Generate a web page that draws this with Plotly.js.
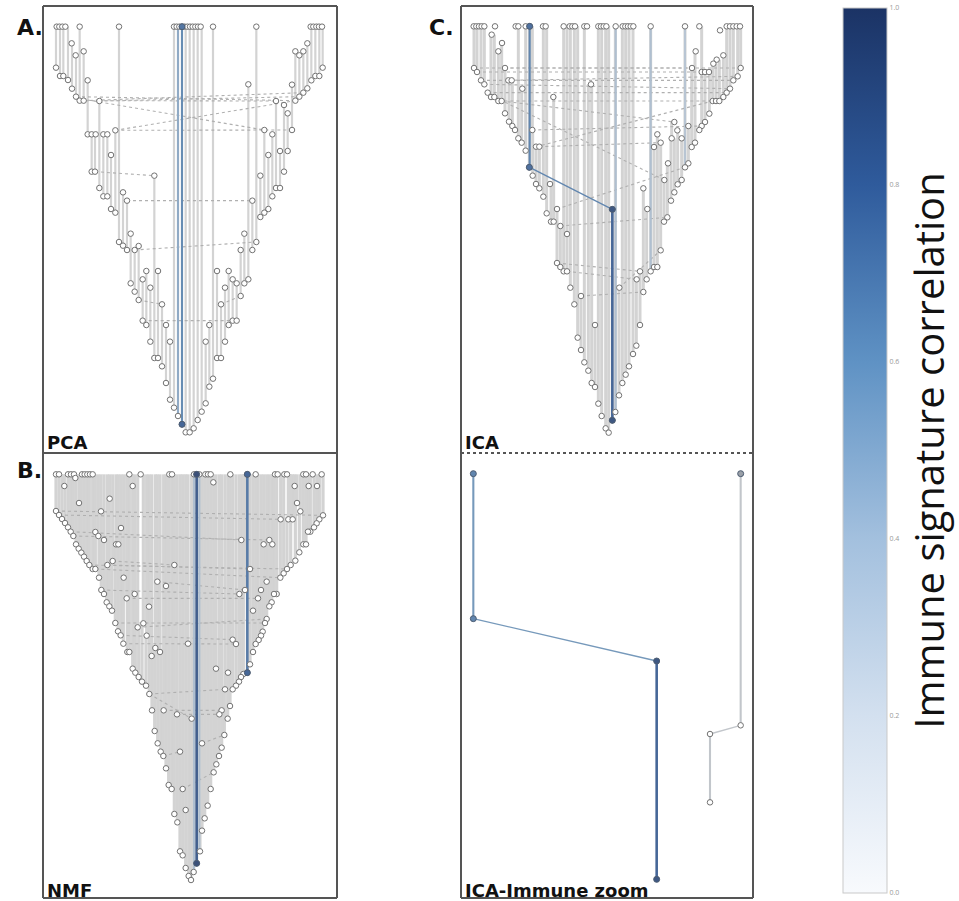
<!DOCTYPE html>
<html><head><meta charset="utf-8">
<script src="https://cdn.plot.ly/plotly-3.0.1.min.js"></script>
<style>html,body{margin:0;padding:0;background:#fff}#chart{width:959px;height:901px}</style>
</head><body><div id="chart"></div>
<script>
// ---------------- DATA (tree layout positions) ----------------
// A. PCA
const pcaTopY = 80;
const pcaTopX = [50,58,67,76,119,237,402,410,418,426,434,442,450,458,466,474,482,519,649,812,820,829,837,846];
const pcaNodeX = [95,107,131,48,60,70,84,143,96,108,119,131,178,143,155,167,190,202,226,213,155,165,343,178,190,202,249,261,213,226,
  802,766,778,790,848,826,838,814,756,802,790,778,766,708,732,743,756,673,697,720,743,685,732,661,708,720,697,637,685,673,661,625,
  272,237,249,261,284,296,272,284,296,319,354,308,331,366,308,319,378,331,390,343,354,366,378,390,402,414,426,437,449,461,473,485,497,508,519,497,508,
  531,566,578,590,613,625,555,543,602,566,578,590,555,531,543,613,649,602,637];
const pcaNodeY = [130,166,154,203,228,228,240,241,266,290,302,302,303,403,403,403,403,403,391,465,515,515,527,564,589,589,577,602,627,638,
  130,154,166,154,203,228,228,241,254,265,278,290,302,303,315,340,390,390,403,453,453,465,515,527,564,564,589,602,627,638,651,253,
  701,726,737,750,750,738,850,875,900,813,813,838,863,913,962,975,975,1025,1025,1074,1074,1099,1149,1199,1223,1248,1273,1297,1297,1285,1260,1235,1210,1160,1136,1025,975,
  813,813,838,850,850,838,863,913,888,975,962,962,1025,1074,1074,701,726,750,750];
const pcaLinkX1 = [108,119,178,143,226,226,131,165,261,284,308,296,543];
const pcaLinkY1 = [290,302,303,300,391,391,302,515,602,750,962,900,913];
const pcaLinkX2 = [766,708,778,673,766,756,790,343,637,649,590,366,602];
const pcaLinkY2 = [302,303,290,390,302,390,278,527,602,726,962,913,888];
const pcaSegX1 = [414,426], pcaSegY1 = [80,80], pcaSegX2 = [414,426], pcaSegY2 = [1248,1273], pcaSegC = [0.45,0.62];
const pcaFillX = [426,426], pcaFillY = [80,1273], pcaFillC = [0.62,0.7];

// B. NMF
const nmfTopY = 73;
const nmfTopX = [48,57,84,93,102,126,134,142,150,158,268,302,388,396,462,470,478,496,504,512,571,622,647,705,713,733,741,790,798,818,845];
const nmfNodeX = [48,57,66,75,84,92,100,108,116,124,132,140,148,158,166,177,184,192,200,208,216,226,234,242,250,262,268,278,286,296,306,318,328,336,344,353,362,370,378,386,395,403,412,420,428,437,446,453,461,
  73,106,117,209,183,243,166,175,192,228,235,218,202,403,251,352,378,284,260,327,310,293,320,346,360,335,444,278,371,411,455,420,428,437,
  520,764,806,831,771,781,722,745,758,849,838,830,822,811,804,604,688,671,697,790,798,778,766,752,741,731,721,630,680,615,598,663,710,702,654,695,688,639,680,675,668,663,656,647,578,588,639,630,622,528,564,610,603,
  597,588,578,555,570,545,538,563,553,545,537,529,521,512,503,494,486,480,470,486];
const nmfNodeY = [183,195,207,219,232,245,258,283,296,308,320,333,345,357,357,383,420,432,457,469,482,519,544,556,581,606,606,656,668,681,695,707,732,781,843,880,905,918,955,1005,1017,1092,1117,1204,1216,1254,1278,1290,1266,
  108,84,159,146,184,234,246,258,270,283,283,333,345,345,383,395,408,432,445,470,520,532,557,594,606,618,581,108,781,793,806,905,1017,1080,
  97,108,108,108,159,184,208,208,208,196,208,220,232,245,245,270,270,283,283,283,283,307,332,345,357,370,383,357,395,420,432,420,432,432,445,457,469,482,507,519,545,557,570,582,569,582,606,643,668,656,668,672,681,
  695,707,718,718,768,781,793,806,855,893,918,943,967,1017,1067,1105,1142,1204,1240,880];
const nmfLinkX1 = [48,57,92,100,218,166,148,202,184,260,352,226,293,242,250,328,371,411,328,370,428,486];
const nmfLinkY1 = [183,195,245,258,333,357,345,345,420,445,395,519,532,556,581,732,781,793,732,918,1017,880];
const nmfLinkX2 = [849,722,604,688,403,721,741,630,598,654,615,675,680,578,588,555,545,538,455,420,521,553];
const nmfLinkY2 = [196,208,270,270,345,383,357,357,432,445,420,519,507,569,582,718,781,793,806,905,967,855];
const nmfSegX1 = [462,478,470,622], nmfSegY1 = [73,73,73,73], nmfSegX2 = [462,478,470,622], nmfSegY2 = [1266,1204,1240,668], nmfSegC = [0.3,0.3,0.85,0.7];
const nmfFillX = [470,470,622,622], nmfFillY = [73,1240,73,668], nmfFillC = [0.85,0.85,0.7,0.7];

// C. ICA
const icaTopY = 79;
const icaTopX = [56,64,72,80,88,120,182,190,212,224,264,272,326,344,352,360,388,396,430,438,446,454,482,503,511,519,527,535,587,690,733,815,825,835,845,855];
const icaNodeX = [110,141,130,57,66,150,78,88,160,170,202,98,108,118,130,140,295,408,150,162,172,180,232,190,200,212,243,253,223,233,243,253,285,265,275,306,288,296,316,472,
  795,722,805,785,775,711,740,750,762,857,848,835,825,815,805,773,783,793,763,750,740,733,700,658,667,607,617,597,650,680,710,720,700,690,639,680,668,628,658,648,565,577,637,627,
  336,306,316,326,336,346,378,358,420,368,378,388,400,410,420,430,440,452,461,472,481,492,502,512,522,534,544,555,493,565,575,545,555,587,597,607,617];
const icaNodeY = [104,129,154,204,216,204,241,253,241,241,266,278,291,291,303,303,291,253,340,365,378,390,390,415,428,452,440,440,502,527,552,565,552,590,640,627,665,665,678,628,
  91,154,166,179,191,204,216,216,216,204,229,241,266,278,291,303,303,303,341,366,378,390,378,366,391,403,428,441,415,415,441,428,490,502,490,540,553,540,577,602,565,627,652,665,
  702,789,801,814,814,863,888,913,975,1013,1050,1087,1112,1149,1161,1211,1248,1285,1298,1261,1236,1186,1149,1124,1099,1062,1037,975,863,876,838,838,814,814,801,801,751];
const icaLinkX1 = [57,150,66,78,160,88,98,130,140,118,232,243,253,306,316,306,336,378,493];
const icaLinkY1 = [204,204,216,241,241,253,278,303,303,291,390,440,440,627,678,789,814,888,863];
const icaLinkX2 = [857,711,740,835,848,825,815,783,658,628,740,773,617,690,637,555,545,565,617];
const icaLinkY2 = [204,204,216,241,229,266,278,303,366,540,378,303,428,502,652,814,838,876,751];
const icaSegX1 = [482,587,690,224,224,472], icaSegY1 = [79,79,79,79,502,628];
const icaSegX2 = [482,587,690,224,472,472], icaSegY2 = [1236,814,502,502,628,1261];
const icaSegC = [0.3,0.3,0.25,0.65,0.65,0.8];
const icaFillX = [224,223,472,472], icaFillY = [79,502,628,1261], icaFillC = [0.65,0.65,0.8,0.8];

// C. ICA-Immune zoom
const zoomSegX1 = [100,100,650,902,902,810], zoomSegY1 = [131,566,693,131,886,912];
const zoomSegX2 = [100,650,650,902,810,810], zoomSegY2 = [566,693,1348,886,912,1117];
const zoomSegC = [0.55,0.55,0.8,0.1,0.1,0.1];
const zoomFillX = [100,100,650,650,902], zoomFillY = [131,566,693,1348,131], zoomFillC = [0.55,0.55,0.8,0.8,0.1];
const zoomNodeX = [902,810,810], zoomNodeY = [886,912,1117];

const panelLabels = ['PCA','NMF','ICA','ICA-Immune zoom'];
const letterLabels = ['A.','B.','C.'];
const cbTickVals = [0,0.2,0.4,0.6,0.8,1.0];
const cbTickText = ['0.0','0.2','0.4','0.6','0.8','1.0'];
const cbTitle = 'Immune signature correlation';

// ---------------- STYLE / BUILD ----------------
const W = 959, H = 901;
const colorscale = [[0,'#f8fafd'],[0.2,'#d3e0ef'],[0.4,'#a3c0de'],[0.6,'#5f92c4'],[0.8,'#2f5b9c'],[1,'#1b3365']];
function hex2rgb(h){return [parseInt(h.slice(1,3),16),parseInt(h.slice(3,5),16),parseInt(h.slice(5,7),16)];}
function rgbAt(v){
  for(let i=1;i<colorscale.length;i++){
    if(v<=colorscale[i][0]){
      const a=colorscale[i-1], b=colorscale[i];
      const t=(v-a[0])/(b[0]-a[0]);
      const ca=hex2rgb(a[1]), cb=hex2rgb(b[1]);
      return ca.map((c,k)=>c+(cb[k]-c)*t);
    }
  }
  return hex2rgb(colorscale[colorscale.length-1][1]);
}
// branches in the figure are drawn slightly greyed
function lineColor(c){
  if(c < 0.2) return '#c2c6cb';
  const g=[138,138,140];
  return 'rgb('+rgbAt(c).map((x,k)=>Math.round(0.75*x+0.25*g[k])).join(',')+')';
}
const px2x = p => p/W, px2y = p => 1 - p/H;

const panels = [
  {xa:'x', ya:'y', box:[43,337,6,453], xr:[9,891], yr:[1359,18], topY:pcaTopY, topX:pcaTopX, nx:pcaNodeX, ny:pcaNodeY,
   lk:[pcaLinkX1,pcaLinkY1,pcaLinkX2,pcaLinkY2], sg:[pcaSegX1,pcaSegY1,pcaSegX2,pcaSegY2,pcaSegC], fl:[pcaFillX,pcaFillY,pcaFillC], stems:'strict', tol:8, sw:2.2},
  {xa:'x2', ya:'y2', box:[43,337,453,898], xr:[9,891], yr:[1344,9], topY:nmfTopY, topX:nmfTopX, nx:nmfNodeX, ny:nmfNodeY,
   lk:[nmfLinkX1,nmfLinkY1,nmfLinkX2,nmfLinkY2], sg:[nmfSegX1,nmfSegY1,nmfSegX2,nmfSegY2,nmfSegC], fl:[nmfFillX,nmfFillY,nmfFillC], stems:'top', tol:4, sw:3.2},
  {xa:'x3', ya:'y3', box:[461,753,6,453], xr:[18,894], yr:[1359,18], topY:icaTopY, topX:icaTopX, nx:icaNodeX, ny:icaNodeY,
   lk:[icaLinkX1,icaLinkY1,icaLinkX2,icaLinkY2], sg:[icaSegX1,icaSegY1,icaSegX2,icaSegY2,icaSegC], fl:[icaFillX,icaFillY,icaFillC], stems:'strict', tol:8, sw:3.0},
  {xa:'x4', ya:'y4', box:[461,753,453,898], xr:[63,939], yr:[1404,69], topY:null, topX:[], nx:zoomNodeX, ny:zoomNodeY,
   lk:[[],[],[],[]], sg:[zoomSegX1,zoomSegY1,zoomSegX2,zoomSegY2,zoomSegC], fl:[zoomFillX,zoomFillY,zoomFillC], stems:'none'}
];

const traces = [];
const layout = {
  width:W, height:H, margin:{l:0,r:0,t:0,b:0,autoexpand:false},
  paper_bgcolor:'#fff', plot_bgcolor:'rgba(0,0,0,0)', showlegend:false, hovermode:false,
  shapes:[], annotations:[]
};

panels.forEach((p)=>{
  const ax = p.xa.replace('x','xaxis'), ay = p.ya.replace('y','yaxis');
  layout[ax] = {domain:[px2x(p.box[0]), px2x(p.box[1])], range:p.xr, visible:false, fixedrange:true, anchor:p.ya};
  layout[ay] = {domain:[px2y(p.box[3]), px2y(p.box[2])], range:p.yr, visible:false, fixedrange:true, anchor:p.xa};
  const base = {xaxis:p.xa, yaxis:p.ya, type:'scatter', hoverinfo:'skip', showlegend:false, cliponaxis:false};

  // grey stems: a node hangs from the nearest node above it in the same column
  if(p.stems !== 'none'){
    const sx=[], sy=[];
    const allX = p.topX.concat(p.nx), allY = p.topX.map(()=>p.topY).concat(p.ny);
    p.nx.forEach((x,i)=>{
      const y = p.ny[i];
      let best = null, bd = 1e9;
      allX.forEach((x2,j)=>{
        const dx = Math.abs(x2-x);
        if(dx<=p.tol && allY[j]<y-1){
          if(best===null || allY[j]>best || (allY[j]===best && dx<bd)){ best = allY[j]; bd = dx; }
        }
      });
      if(best===null && p.stems==='top') best = p.topY;
      if(best!==null){ sx.push(x,x,null); sy.push(best,y,null); }
    });
    traces.push(Object.assign({}, base, {x:sx, y:sy, mode:'lines', line:{color:'#d3d3d3', width:p.sw}}));
  }
  // dotted links
  const [lx1,ly1,lx2,ly2] = p.lk;
  if(lx1.length){
    const dx=[], dy=[];
    lx1.forEach((x,i)=>{ dx.push(x,lx2[i],null); dy.push(ly1[i],ly2[i],null); });
    traces.push(Object.assign({}, base, {x:dx, y:dy, mode:'lines', line:{color:'#b0b0b0', width:1.1, dash:'dot'}}));
  }
  // coloured (correlated) branches
  const [gx1,gy1,gx2,gy2,gc] = p.sg;
  gx1.forEach((x,i)=>{
    const vertical = x===gx2[i];
    traces.push(Object.assign({}, base, {x:[x,gx2[i]], y:[gy1[i],gy2[i]], mode:'lines',
      line:{color:lineColor(gc[i]), width: vertical ? (gc[i]>=0.7 ? 2.6 : 2.1) : 1.3}}));
  });
  // open nodes
  const mx = p.topX.concat(p.nx), my = p.topX.map(()=>p.topY).concat(p.ny);
  traces.push(Object.assign({}, base, {x:mx, y:my, mode:'markers',
    marker:{symbol:'circle', size:5.5, color:'#ffffff', line:{color:'#727272', width:1}}}));
  // filled nodes
  const [fx,fy,fc] = p.fl;
  traces.push(Object.assign({}, base, {x:fx, y:fy, mode:'markers',
    marker:{symbol:'circle', size:6, color:fc.map(c=>c<0.2?'#9aa0a8':lineColor(Math.min(1,c+0.1))), line:{color:'#4d5d72', width:1}}}));
});

// colour bar carrier
traces.push({type:'scatter', xaxis:'x', yaxis:'y', x:[0,0], y:[-9999,-9999], mode:'markers', hoverinfo:'skip', showlegend:false,
  marker:{color:[0,1], cmin:0, cmax:1, colorscale:colorscale, showscale:true, size:1,
    colorbar:{x:843/W, xanchor:'left', xref:'paper', y:1-450.5/H, yanchor:'middle', yref:'paper',
      len:885, lenmode:'pixels', thickness:44, thicknessmode:'pixels', xpad:0, ypad:0,
      outlinecolor:'#c9c9c9', outlinewidth:1, tickvals:cbTickVals, ticktext:cbTickText, ticks:'',
      tickfont:{size:7, color:'#9a9a9a', family:'Open Sans'},
      title:{text:cbTitle, side:'right', font:{size:40, family:'Open Sans', color:'#111'}}}}});

// panel borders
const bc = '#555', bw = 2;
function line(x0,y0,x1,y1,dash){ layout.shapes.push({type:'line', xref:'paper', yref:'paper', x0:px2x(x0), y0:px2y(y0), x1:px2x(x1), y1:px2y(y1), line:{color:bc, width:bw, dash:dash||'solid'}}); }
line(43,6,337,6); line(43,898,337,898); line(43,6,43,898); line(337,6,337,898); line(43,453,337,453);
line(461,6,753,6); line(461,898,753,898); line(461,6,461,898); line(753,6,753,898); line(461,453,753,453,'dot');

// labels
function ann(txt,x,y,size){ layout.annotations.push({text:txt, xref:'paper', yref:'paper', x:px2x(x), y:px2y(y), xanchor:'left', yanchor:'middle', showarrow:false,
  font:{family:'DejaVu Sans', size:size, color:'#111', weight:700}}); }
ann(letterLabels[0], 15, 27, 22); ann(letterLabels[1], 15, 470, 22); ann(letterLabels[2], 427, 27, 22);
ann(panelLabels[0], 45, 442, 18); ann(panelLabels[1], 45, 890, 18); ann(panelLabels[2], 463, 442, 18); ann(panelLabels[3], 463, 890, 18);

Plotly.newPlot('chart', traces, layout, {displayModeBar:false, staticPlot:true});
</script>
</body></html>
